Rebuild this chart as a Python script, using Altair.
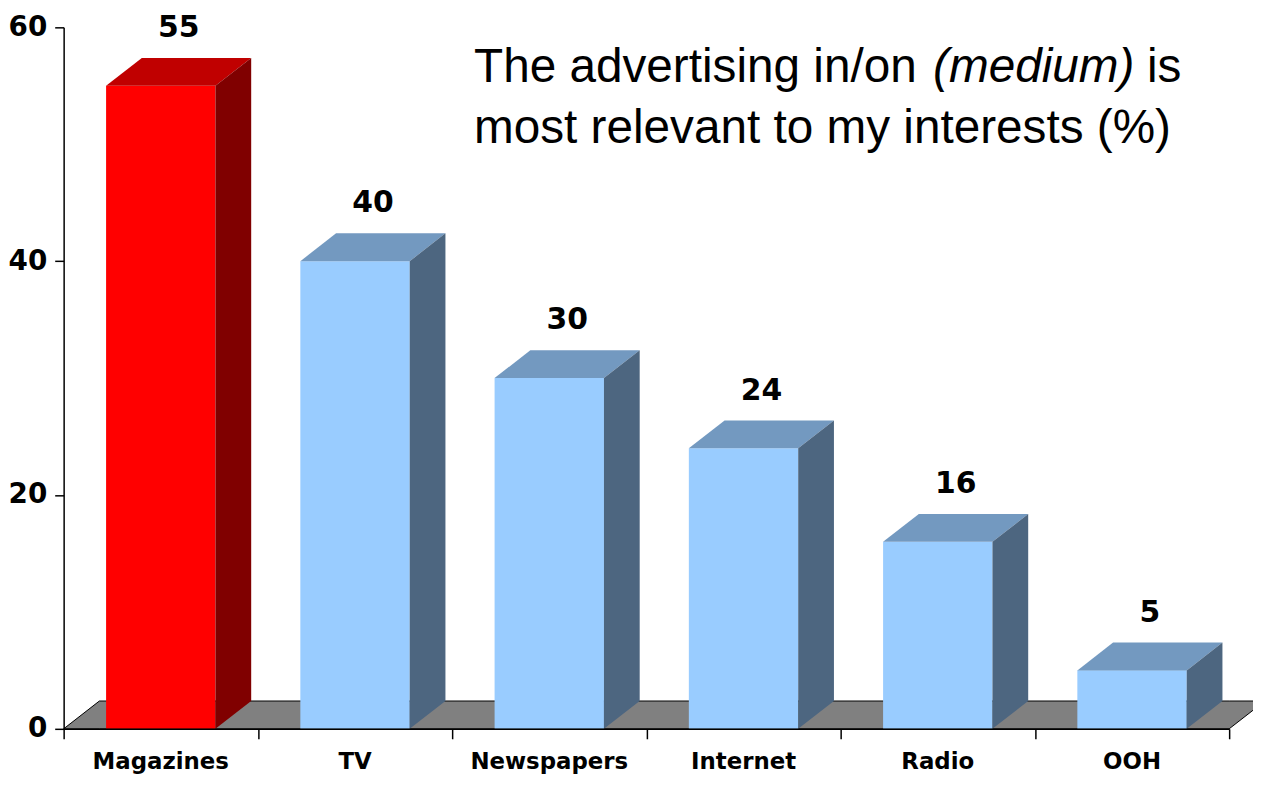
import altair as alt
import pandas as pd

# ---- data ----
categories = ["Magazines", "TV", "Newspapers", "Internet", "Radio", "OOH"]
values = [55, 40, 30, 24, 16, 5]
highlighted = ["Magazines"]
y_ticks = [0, 20, 40, 60]
title_line1 = ["The advertising in/on", "(medium)", "is"]
title_line2 = ["most relevant to my interests (%)"]

# ---- geometry of the pseudo-3D bars (in data units) ----
HALF = 0.2815   # half width of bar front
DX = 0.184      # depth offset in x (category units)
DY = 2.38       # depth offset in y (value units)
N = len(categories)

W, H = 1173, 706

front_rows, top_rows, side_rows, label_rows = [], [], [], []
for i, (c, v) in enumerate(zip(categories, values)):
    g = "hi" if c in highlighted else "lo"
    xl, xr = i + 0.5 - HALF, i + 0.5 + HALF
    front_rows.append(dict(cat=c, g=g, x=xl, x1=xr, ya=v, yb=0))
    top_rows += [
        dict(cat=c, g=g, x=xl, ya=v, yb=v),
        dict(cat=c, g=g, x=xl + DX, ya=v + DY, yb=v),
        dict(cat=c, g=g, x=xr, ya=v + DY, yb=v),
        dict(cat=c, g=g, x=xr + DX, ya=v + DY, yb=v + DY),
    ]
    side_rows += [
        dict(cat=c, g=g, x=xr, ya=v, yb=0),
        dict(cat=c, g=g, x=xr + DX, ya=v + DY, yb=DY),
    ]
    label_rows.append(dict(cat=c, x=i + 0.5, xv=i + 0.5 + DX / 2, ya=v + DY, v=v))

floor_rows = [
    dict(x=0, ya=0, yb=0),
    dict(x=DX, ya=DY, yb=0),
    dict(x=N, ya=DY, yb=0),
    dict(x=N + DX, ya=DY, yb=DY),
]

xs = alt.Scale(domain=[0, N], nice=False, zero=False)
ys = alt.Scale(domain=[0, 60], nice=False, zero=True)

x_axis = alt.Axis(
    values=list(range(N + 1)), labels=False, title=None, grid=False,
    tickSize=10, tickWidth=1.5, tickColor="#000000",
    domainColor="#000000", domainWidth=1.5, zindex=1)
y_axis = alt.Axis(
    values=y_ticks, title=None, grid=False, tickSize=9, tickWidth=1.5,
    tickColor="#000000", domainColor="#000000", domainWidth=1.5,
    labelFont="DejaVu Sans", labelFontWeight="bold", labelFontSize=28,
    labelColor="#000000", labelPadding=8, zindex=1)

X = alt.X("x:Q", scale=xs, axis=x_axis, title=None)
Y = alt.Y("ya:Q", scale=ys, axis=y_axis, title=None)

front_col = alt.Scale(domain=["hi", "lo"], range=["#FF0000", "#99CCFF"])
top_col = alt.Scale(domain=["hi", "lo"], range=["#C00000", "#7399C0"])
side_col = alt.Scale(domain=["hi", "lo"], range=["#800000", "#4D6680"])

floor = alt.Chart(pd.DataFrame(floor_rows)).mark_area(
    orient="vertical", color="#808080", stroke="#000000", strokeWidth=1, opacity=1
).encode(x=X, y=Y, y2="yb:Q")

front = alt.Chart(pd.DataFrame(front_rows)).mark_rect().encode(
    x=X, x2="x1:Q", y=Y, y2="yb:Q",
    color=alt.Color("g:N", scale=front_col, legend=None),
)

top = alt.Chart(pd.DataFrame(top_rows)).mark_area(orient="vertical", opacity=1).encode(
    x=X, y=Y, y2="yb:Q",
    fill=alt.Fill("g:N", scale=top_col, legend=None),
    detail="cat:N",
)

side = alt.Chart(pd.DataFrame(side_rows)).mark_area(orient="vertical", opacity=1).encode(
    x=X, y=Y, y2="yb:Q",
    fill=alt.Fill("g:N", scale=side_col, legend=None),
    detail="cat:N",
)

labels_df = pd.DataFrame(label_rows)

value_text = alt.Chart(labels_df).mark_text(
    font="DejaVu Sans", fontWeight="bold", fontSize=30, color="#000000",
    baseline="alphabetic", align="center", dy=-21
).encode(
    x=alt.X("xv:Q", scale=xs, axis=x_axis, title=None),
    y=Y,
    text="v:Q",
)

cat_text = alt.Chart(labels_df).mark_text(
    font="DejaVu Sans", fontWeight="bold", fontSize=23, color="#000000",
    baseline="alphabetic", align="center"
).encode(
    x=X,
    y=alt.value(H + 40),
    text="cat:N",
)

def title_piece(txt, x, y, align="left", style="normal"):
    return alt.Chart(alt.Data(values=[{"t": txt}])).mark_text(
        font="Liberation Sans", fontSize=48, fontStyle=style, color="#000000",
        align=align, baseline="alphabetic"
    ).encode(x=alt.value(x), y=alt.value(y), text="t:N")

t1 = title_piece(title_line1[0], 413, 55)
t2 = title_piece(title_line1[1], 875, 55, style="italic")
t3 = title_piece(title_line1[2], 1125, 55, align="right")
t4 = title_piece(title_line2[0], 413, 116)

chart = alt.layer(
    floor, front, top, side, value_text, cat_text, t1, t2, t3, t4
).resolve_scale(
    color="independent", fill="independent"
).properties(
    width=W, height=H,
    autosize=alt.AutoSizeParams(type="none"),
    padding={"left": 56, "top": 17, "right": 24, "bottom": 44},
    background="#FFFFFF",
).configure_view(stroke=None)

chart.save("out.html", embed_options={"renderer": "svg", "actions": False})
